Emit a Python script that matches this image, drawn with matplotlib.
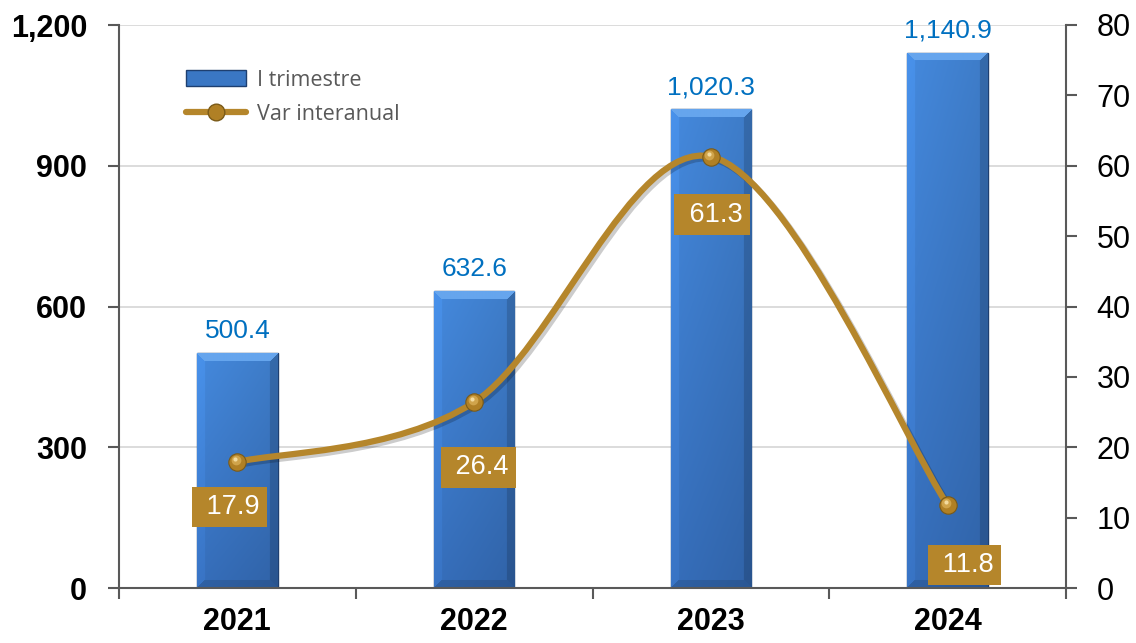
import numpy as np
import matplotlib
matplotlib.use('Agg')
import matplotlib.pyplot as plt
from matplotlib.patches import Patch, PathPatch
from matplotlib.lines import Line2D
from matplotlib.path import Path
import matplotlib.patheffects as pe
import matplotlib.transforms as mtransforms

# ---- data ----
years = ['2021', '2022', '2023', '2024']
values = [500.4, 632.6, 1020.3, 1140.9]
var_values = [17.9, 26.4, 61.3, 11.8]
bar_labels = ['500.4', '632.6', '1,020.3', '1,140.9']
var_labels = ['17.9', '26.4', '61.3', '11.8']
left_ticks = [0, 300, 600, 900, 1200]
left_tick_labels = ['0', '300', '600', '900', '1,200']
right_ticks = [0, 10, 20, 30, 40, 50, 60, 70, 80]
series_names = ['I trimestre', 'Var interanual']

# ---- styles ----
GOLD = '#B5862B'
BLUE_LABEL = '#0070C0'
AXIS_C = '#595959'
label_offsets_px = [(-8, -45), (4, -65), (1, -58), (17, -60)]

W, H = 1136, 643
fig = plt.figure(figsize=(W / 100, H / 100), dpi=100)
ax = fig.add_axes([119 / W, 1 - 588 / H, (1066 - 119) / W, (588 - 25) / H])
x = np.arange(len(years))
ax.set_xlim(-0.5, len(years) - 0.5)
ax.set_ylim(0, 1200)

# gridlines
ax.set_axisbelow(True)
ax.yaxis.grid(True, color='#D9D9D9', lw=1.3)

# bars
bw = 0.34
bars = ax.bar(x, values, width=bw, color='#3A77C4', edgecolor='#1E3F70',
              lw=1.0, zorder=2)

# gradient / bevel overlay per bar
for rect in bars:
    x0, x1 = rect.get_x(), rect.get_x() + rect.get_width()
    h = rect.get_height()
    p0 = ax.transData.transform((x0, 0))
    p1 = ax.transData.transform((x1, h))
    Wp = max(int(round(p1[0] - p0[0])), 2)
    Hp = max(int(round(p1[1] - p0[1])), 2)
    rows = np.arange(Hp)[:, None] * np.ones((1, Wp))
    cols = np.ones((Hp, 1)) * np.arange(Wp)[None, :]
    t = rows / max(Hp - 1, 1)
    top = np.array([0.27, 0.54, 0.87])
    bot = np.array([0.21, 0.43, 0.73])
    img = top[None, None, :] * (1 - t[..., None]) + bot[None, None, :] * t[..., None]
    hx = cols / max(Wp - 1, 1)
    shade = 1.0 - 0.10 * hx
    img = img * shade[..., None]
    b = 8
    top_mask = (rows < b) & (cols >= rows) & (cols <= Wp - 1 - rows)
    left_mask = (cols < b) & (rows > cols) & (rows < Hp - 1 - cols)
    right_mask = (cols > Wp - 1 - b) & (rows > (Wp - 1 - cols)) & (rows < Hp - 1 - (Wp - 1 - cols))
    bottom_mask = (rows > Hp - 1 - b) & ~left_mask & ~right_mask
    img[top_mask] = np.array([0.40, 0.65, 0.93])
    img[left_mask] = img[left_mask] * 1.06
    img[right_mask] = img[right_mask] * 0.85
    img[bottom_mask] = img[bottom_mask] * 0.88
    img = np.clip(img, 0, 1)
    im = ax.imshow(img, extent=(x0, x1, 0, h), aspect='auto', origin='upper',
                   zorder=2.1, interpolation='bilinear')
    im.set_clip_path(rect)
ax.set_xlim(-0.5, len(years) - 0.5)
ax.set_ylim(0, 1200)

# bar value labels
for xi, v, s in zip(x, values, bar_labels):
    ax.annotate(s, (xi, v), xytext=(0, 10), textcoords='offset pixels',
                ha='center', va='bottom', fontsize=19, color=BLUE_LABEL,
                family='Liberation Sans', zorder=5)

# axes styling (left)
ax.set_yticks(left_ticks)
ax.set_yticklabels(left_tick_labels, fontsize=22, fontweight='bold',
                   family='Liberation Sans')
ax.tick_params(axis='y', length=8, width=1.5, color=AXIS_C, pad=15, direction='out')
ax.set_xticks(x)
ax.set_xticklabels(years, fontsize=22, fontweight='bold', family='Liberation Sans')
ax.tick_params(axis='x', length=0, pad=14)
ax.set_xticks(np.arange(-0.5, len(years)), minor=True)
ax.tick_params(axis='x', which='minor', length=8, width=1.5, color=AXIS_C, direction='out')
for sp in ['top', 'right']:
    ax.spines[sp].set_visible(False)
for sp in ['left', 'bottom']:
    ax.spines[sp].set_color(AXIS_C)
    ax.spines[sp].set_linewidth(1.5)

# right axis
ax2 = ax.twinx()
ax2.set_ylim(0, 80)
ax2.set_yticks(right_ticks)
ax2.set_yticklabels([str(v) for v in right_ticks], fontsize=22, family='Liberation Sans')
ax2.tick_params(axis='y', length=8, width=1.5, color=AXIS_C, pad=14, direction='out')
for sp in ['top', 'left', 'bottom']:
    ax2.spines[sp].set_visible(False)
ax2.spines['right'].set_color(AXIS_C)
ax2.spines['right'].set_linewidth(1.5)

# smooth line (Bezier through points, Excel-like smoothing)
P = np.column_stack([x.astype(float), np.array(var_values, dtype=float)])
n = len(P)
verts = [P[0]]
codes = [Path.MOVETO]
for i in range(n - 1):
    pm = P[i - 1] if i > 0 else P[i]
    pp = P[i + 2] if i + 2 < n else P[i + 1]
    c1 = P[i] + (P[i + 1] - pm) / 6.0
    c2 = P[i + 1] - (pp - P[i]) / 6.0
    verts += [c1, c2, P[i + 1]]
    codes += [Path.CURVE4] * 3
path = Path(verts, codes)
curve = PathPatch(path, facecolor='none', edgecolor=GOLD, lw=4.5, zorder=3,
                  capstyle='round', joinstyle='round',
                  path_effects=[pe.SimpleLineShadow(offset=(2, -2), alpha=0.2,
                                                    shadow_color='black'),
                                pe.Normal()])
ax2.add_patch(curve)

# sphere-like markers
ax2.plot(x, var_values, 'o', ms=12.5, mfc='#B08025', mec='#7A5A18', mew=0.8, zorder=4)
hl = mtransforms.offset_copy(ax2.transData, fig=fig, x=-1.5, y=2, units='dots')
ax2.plot(x, var_values, 'o', ms=7, mfc='#D9AE55', mec='none', alpha=0.8,
         transform=hl, zorder=4.1)
hl2 = mtransforms.offset_copy(ax2.transData, fig=fig, x=-2, y=3, units='dots')
ax2.plot(x, var_values, 'o', ms=3, mfc='#F7E2A8', mec='none', alpha=0.9,
         transform=hl2, zorder=4.2)

# variation labels in gold boxes
for xi, v, s, off in zip(x, var_values, var_labels, label_offsets_px):
    ax2.annotate(' ' + s, (xi, v), xytext=off, textcoords='offset pixels',
                 ha='center', va='center', fontsize=19.5, color='white',
                 family='Liberation Sans', zorder=6,
                 bbox=dict(boxstyle='square,pad=0.27', fc=GOLD, ec='none'))

# legend
handles = [Patch(facecolor='#3A77C4', edgecolor='#1E3F70', lw=1.0),
           Line2D([0], [0], color=GOLD, lw=4.5, marker='o', ms=12,
                  mfc='#B08025', mec='#7A5A18', solid_capstyle='round')]
leg = ax2.legend(handles, series_names, loc='upper left',
                 bbox_to_anchor=(0.05, 0.955), frameon=False,
                 prop={'family': 'Open Sans', 'size': 15.5}, labelcolor='#595959',
                 handlelength=2.8, handleheight=0.75, labelspacing=0.62,
                 handletextpad=0.5)

fig.savefig('out.png', dpi=100)
